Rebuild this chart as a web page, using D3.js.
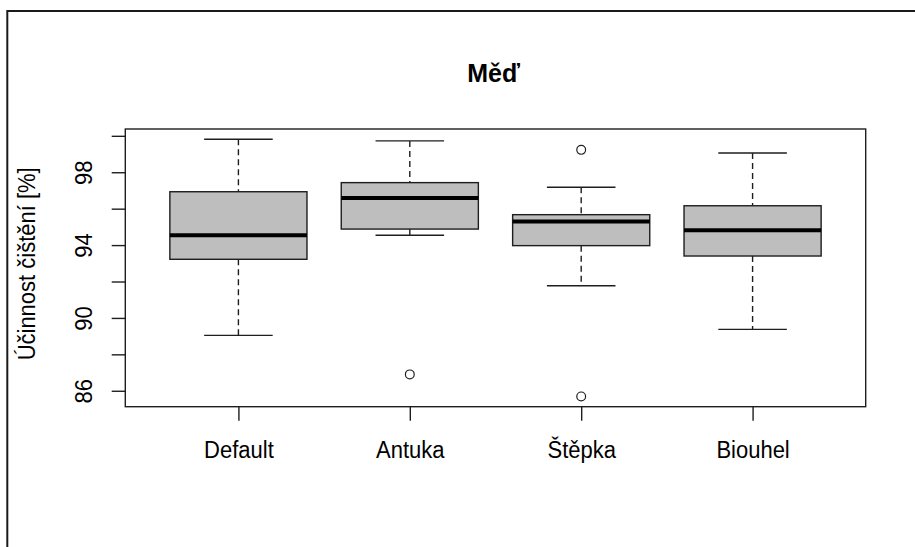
<!DOCTYPE html>
<html>
<head>
<meta charset="utf-8">
<script src="https://cdn.jsdelivr.net/npm/d3@7"></script>
<style>
  html, body { margin: 0; padding: 0; background: #fff; }
  svg { display: block; }
  text { font-family: "Liberation Sans", Arial, sans-serif; fill: #000; }
</style>
</head>
<body>
<svg id="chart" width="915" height="547"></svg>
<script>
// ---- data ----
const categories = ["Default", "Antuka", "Štěpka", "Biouhel"];
const whiskerLow  = [89.04, 94.54, 91.77, 89.37];
const q1          = [93.22, 94.88, 93.97, 93.40];
const median      = [94.54, 96.59, 95.29, 94.81];
const q3          = [96.93, 97.43, 95.67, 96.16];
const whiskerHigh = [99.81, 99.72, 97.18, 99.06];
const outliers    = [[], [86.90], [99.23, 85.69], []];
const yTicks      = [86, 88, 90, 92, 94, 96, 98, 100];
const yTickLabels = ["86", "", "90", "", "94", "", "98", ""];
const title = "Měď";
const yTitle = "Účinnost čištění [%]";

// ---- layout ----
const svg = d3.select("#chart");
const plot = { left: 125.3, right: 865.7, top: 129, bottom: 406.7 };

// R-style ranges with 4% extension
const n = categories.length;
const xDom = [0.5 - 0.04 * n, n + 0.5 + 0.04 * n];
const x = d3.scaleLinear().domain(xDom).range([plot.left, plot.right]);

const allVals = whiskerLow.concat(whiskerHigh, outliers.flat());
const yMin = d3.min(allVals), yMax = d3.max(allVals);
const pad = 0.04 * (yMax - yMin);
const y = d3.scaleLinear().domain([yMin - pad, yMax + pad]).range([plot.bottom, plot.top]);

// outer frame
svg.append("rect")
  .attr("x", 7.3).attr("y", 11).attr("width", 1200).attr("height", 1200)
  .attr("fill", "none").attr("stroke", "#1a1a1a").attr("stroke-width", 2);

const boxW = 0.8, capW = 0.4;
const lineColor = "#1e1e1e";
const lw = 1.4;

categories.forEach((c, i) => {
  const cx = x(i + 1);
  const g = svg.append("g");
  // whiskers (dashed)
  g.append("line").attr("x1", cx).attr("x2", cx)
    .attr("y1", y(whiskerHigh[i])).attr("y2", y(q3[i]))
    .attr("stroke", lineColor).attr("stroke-width", lw).attr("stroke-dasharray", "6,4");
  g.append("line").attr("x1", cx).attr("x2", cx)
    .attr("y1", y(q1[i])).attr("y2", y(whiskerLow[i]))
    .attr("stroke", lineColor).attr("stroke-width", lw).attr("stroke-dasharray", "6,4");
  // caps
  [whiskerHigh[i], whiskerLow[i]].forEach(v => {
    g.append("line")
      .attr("x1", x(i + 1 - capW / 2)).attr("x2", x(i + 1 + capW / 2))
      .attr("y1", y(v)).attr("y2", y(v))
      .attr("stroke", lineColor).attr("stroke-width", lw);
  });
  // box
  g.append("rect")
    .attr("x", x(i + 1 - boxW / 2)).attr("width", x(i + 1 + boxW / 2) - x(i + 1 - boxW / 2))
    .attr("y", y(q3[i])).attr("height", y(q1[i]) - y(q3[i]))
    .attr("fill", "#bebebe").attr("stroke", lineColor).attr("stroke-width", lw);
  // median
  g.append("line")
    .attr("x1", x(i + 1 - boxW / 2)).attr("x2", x(i + 1 + boxW / 2))
    .attr("y1", y(median[i])).attr("y2", y(median[i]))
    .attr("stroke", "#000").attr("stroke-width", 4);
  // outliers
  outliers[i].forEach(v => {
    g.append("circle").attr("cx", cx).attr("cy", y(v)).attr("r", 4.4)
      .attr("fill", "#fff").attr("stroke", lineColor).attr("stroke-width", 1.2);
  });
});

// plot box
svg.append("rect")
  .attr("x", plot.left).attr("y", plot.top)
  .attr("width", plot.right - plot.left).attr("height", plot.bottom - plot.top)
  .attr("fill", "none").attr("stroke", lineColor).attr("stroke-width", lw);

// x axis
const xAxis = d3.axisBottom(x)
  .tickValues(d3.range(1, n + 1))
  .tickSize(14).tickPadding(0)
  .tickFormat("");
const gx = svg.append("g").attr("transform", `translate(0,${plot.bottom})`).call(xAxis);
gx.select(".domain").remove();
gx.selectAll(".tick line").attr("stroke", lineColor).attr("stroke-width", lw);
gx.selectAll(".tick").append("text")
  .attr("transform", "translate(0,51.6) scale(1,1.07)")
  .attr("text-anchor", "middle")
  .style("font-size", "22px").attr("fill", "#000")
  .text(d => categories[d - 1]);

// y axis
const yAxis = d3.axisLeft(y).tickValues(yTicks).tickSize(13.6).tickFormat("");
const gy = svg.append("g").attr("transform", `translate(${plot.left},0)`).call(yAxis);
gy.select(".domain").remove();
gy.selectAll(".tick line").attr("stroke", lineColor).attr("stroke-width", lw);
gy.selectAll(".tick").append("text")
  .attr("transform", "translate(-33,0) rotate(-90) scale(1,1.12)")
  .attr("text-anchor", "middle")
  .style("font-size", "22px").attr("fill", "#000")
  .text((d, i) => yTickLabels[i]);

// y title
svg.append("text")
  .attr("transform", `translate(34.5,${(plot.top + plot.bottom) / 2 - 4}) rotate(-90) scale(1,1.07)`)
  .attr("text-anchor", "middle")
  .style("font-size", "22px")
  .text(yTitle);

// title
svg.append("text")
  .attr("transform", `translate(${(plot.left + plot.right) / 2 - 2},81.7) scale(1,1.05)`)
  .attr("text-anchor", "middle")
  .style("font-size", "25px").style("font-weight", "bold")
  .text(title);
</script>
</body>
</html>
